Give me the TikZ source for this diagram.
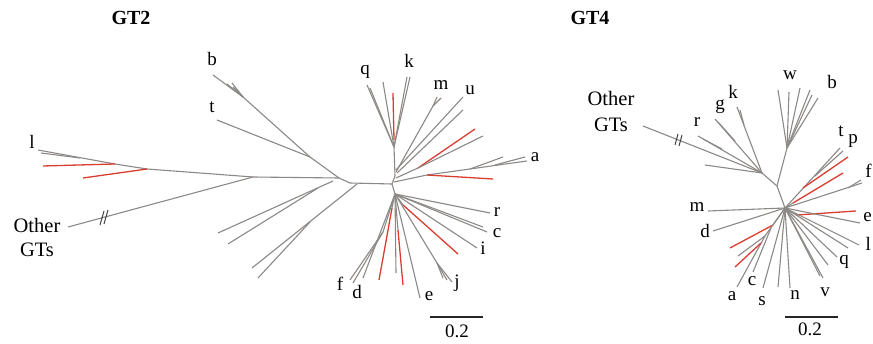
\documentclass[tikz,border=0pt]{standalone}
\usepackage{fontspec}
\setmainfont{Liberation Serif}
\definecolor{brgrey}{RGB}{140,136,134}
\definecolor{brred}{RGB}{218,62,48}
\begin{document}
\begin{tikzpicture}[x=1pt,y=-1pt,
 br/.style={draw=brgrey,line width=1.1pt},
 rb/.style={draw=brred,line width=1.3pt},
 hashm/.style={draw=black!75,line width=1pt},
 lab/.style={inner sep=0pt,font=\fontsize{19}{21}\selectfont},
 big/.style={inner sep=0pt,font=\fontsize{20.5}{23}\selectfont},
 ttl/.style={inner sep=0pt,font=\fontsize{20}{22}\selectfont\bfseries},
 sbar/.style={draw=black!85,line width=1.8pt}]
\useasboundingbox (0,0) rectangle (873,344);
% titles
\node[ttl] (t2) at (131,18) {GT2};
\node[ttl] (t4) at (590,18) {GT4};
% ================= GT2 =================
\coordinate (bj) at (243,97);
\coordinate (btj) at (310,157);
\coordinate (lj) at (253,177);
\coordinate (c1) at (339,178);
\coordinate (c2) at (392,184);
\coordinate (qk) at (394,147);
\coordinate (l0) at (395,194);
% b and t
\draw[br] (213,75) -- (bj);
\draw[br] (227,84) -- (bj);
\draw[br] (232,83) -- (bj);
\draw[br] (233,87) -- (bj);
\draw[br] (bj) -- (btj);
\draw[br] (217,120) -- (btj);
\draw[br] (btj) -- (c1);
% l
\draw[br] (38,150) -- (115,164) -- (147,169) -- (lj) -- (c1);
\draw[br] (41,153) -- (80,158);
\draw[rb] (43,166) -- (115,164);
\draw[rb] (83,178) -- (147,169);
% other GTs
\draw[br] (68,227) -- (lj);
\draw[hashm] (100,225) -- (104,211);
\draw[hashm] (104,224) -- (108,210);
% centre
\draw[br] (c1) -- (350,183) -- (c2);
% lower-left
\draw[br] (218,233) -- (333,181);
\draw[br] (228,244) -- (318,188);
\draw[br] (252,268) -- (357,184);
\draw[br] (258,278) -- (310,222);
% upper clade
\draw[br] (c2) -- (395,176) -- (qk);
\draw[br] (367,85) -- (qk);
\draw[br] (370,88) -- (qk);
\draw[br] (383,82) -- (qk);
\draw[br] (407,77) -- (qk);
\draw[br] (410,77) -- (qk);
\draw[rb] (393,93) -- (394,140);
\draw[br] (437,97) -- (433,106);
\draw[br] (441,98) -- (433,106);
\draw[br] (433,106) -- (396,172);
\draw[br] (463,97) -- (396,170);
\draw[br] (463,110) -- (397,173);
\draw[br] (396,178) -- (418,168);
\draw[rb] (418,168) -- (475,129);
\draw[br] (418,168) -- (483,136);
\draw[br] (394,182) -- (427,175) -- (527,161);
\draw[br] (470,169) -- (503,157);
\draw[br] (495,165) -- (525,157);
\draw[rb] (427,175) -- (493,179);
% lower clade
\draw[br] (c2) -- (l0);
\draw[br] (l0) -- (490,213);
\draw[br] (l0) -- (483,227);
\draw[br] (l0) -- (487,232);
\draw[br] (l0) -- (403,205);
\draw[rb] (403,205) -- (458,254);
\draw[br] (l0) -- (477,248);
\draw[br] (l0) -- (437,263);
\draw[br] (437,263) -- (443,278);
\draw[br] (437,263) -- (447,280);
\draw[br] (437,263) -- (452,282);
\draw[br] (l0) -- (420,298);
\draw[br] (l0) -- (396,273);
\draw[br] (l0) -- (398,230);
\draw[rb] (398,230) -- (403,285);
\draw[br] (l0) -- (392,208);
\draw[rb] (392,208) -- (379,280);
\draw[br] (l0) -- (383,232);
\draw[br] (383,232) -- (350,280);
\draw[br] (383,232) -- (353,283);
\draw[br] (l0) -- (363,278);
% labels GT2
\node[lab] (Lb) at (212,59) {b};
\node[lab] (Lt) at (212,107) {t};
\node[lab] (Ll) at (32,142) {l};
\node[big] (Lo) at (37,225) {Other};
\node[big] (Lg) at (37,250) {GTs};
\node[lab] (Lq) at (365,72) {q};
\node[lab] (Lk) at (409,61) {k};
\node[lab] (Lm) at (441,85) {m};
\node[lab] (Lu) at (470,90) {u};
\node[lab] (La) at (535,157) {a};
\node[lab] (Lr) at (497,212) {r};
\node[lab] (Lc) at (497,233) {c};
\node[lab] (Li) at (483,248) {i};
\node[lab] (Lj) at (457,283) {j};
\node[lab] (Le) at (429,296) {e};
\node[lab] (Ld) at (357,292) {d};
\node[lab] (Lf) at (340,284) {f};
% scale bar GT2
\draw[sbar] (430,317) -- (483,317);
\node[lab] (s2) at (457,331) {0.2};
% ================= GT4 =================
\coordinate (n1) at (762,173);
\coordinate (n2) at (777,186);
\coordinate (wj) at (787,148);
\coordinate (cc) at (785,208);
\draw[br] (643,126) -- (n1);
\draw[hashm] (675,145) -- (678,134);
\draw[hashm] (679,146) -- (682,135);
\draw[br] (698,136) -- (n1);
\draw[br] (703,139) -- (722,149);
\draw[br] (715,119) -- (n1);
\draw[br] (718,122) -- (735,141);
\draw[br] (737,107) -- (n1);
\draw[br] (740,110) -- (744,125);
\draw[br] (705,165) -- (n1);
\draw[br] (n1) -- (n2) -- (cc);
\draw[br] (n2) -- (wj);
\draw[br] (wj) -- (778,90);
\draw[br] (wj) -- (789,92);
\draw[br] (wj) -- (800,88);
\draw[br] (wj) -- (810,90);
\draw[br] (wj) -- (812,95);
\draw[br] (wj) -- (818,98);
\draw[br] (cc) -- (840,148);
\draw[br] (815,176) -- (843,151);
\draw[rb] (803,188) -- (848,157);
\draw[br] (cc) -- (793,203);
\draw[rb] (793,203) -- (843,173);
\draw[br] (cc) -- (862,183);
\draw[br] (848,188) -- (861,180);
\draw[br] (708,211) -- (cc);
\draw[br] (713,231) -- (cc);
\draw[br] (cc) -- (797,215);
\draw[rb] (797,215) -- (856,211);
\draw[br] (cc) -- (860,223);
\draw[br] (cc) -- (859,245);
\draw[br] (cc) -- (848,248);
\draw[br] (cc) -- (837,257);
\draw[br] (cc) -- (828,265);
\draw[br] (cc) -- (823,278);
\draw[br] (cc) -- (820,276);
\draw[br] (cc) -- (790,288);
\draw[br] (cc) -- (778,287);
\draw[br] (cc) -- (763,288);
\draw[br] (cc) -- (773,225);
\draw[rb] (773,225) -- (730,248);
\draw[br] (cc) -- (765,236);
\draw[br] (765,236) -- (738,256);
\draw[br] (765,236) -- (737,287);
\draw[rb] (761,243) -- (735,267);
\draw[br] (771,228) -- (753,272);
% labels GT4
\node[big] (Mo) at (611,98) {Other};
\node[big] (Mg) at (611,125) {GTs};
\node[lab] (Mr) at (697,122) {r};
\node[lab] (Mgg) at (720,107) {g};
\node[lab] (Mk) at (733,92) {k};
\node[lab] (Mw) at (790,75) {w};
\node[lab] (Mb) at (832,82) {b};
\node[lab] (Mt) at (841,131) {t};
\node[lab] (Mp) at (853,141) {p};
\node[lab, anchor=east] (Mf) at (872,171) {f};
\node[lab, anchor=east] (Me) at (872,217) {e};
\node[lab, anchor=east] (Ml) at (871,244) {l};
\node[lab] (Mq) at (844,262) {q};
\node[lab] (Mv) at (825,292) {v};
\node[lab] (Mn) at (795,295) {n};
\node[lab] (Ms) at (762,301) {s};
\node[lab] (Mc) at (752,281) {c};
\node[lab] (Ma) at (732,296) {a};
\node[lab] (Mm) at (697,207) {m};
\node[lab] (Md) at (705,231) {d};
% scale bar GT4
\draw[sbar] (785,317) -- (838,317);
\node[lab] (s4) at (810,329) {0.2};
\end{tikzpicture}
\end{document}
